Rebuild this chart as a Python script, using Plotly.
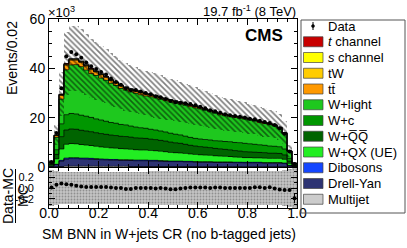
import numpy as np
import plotly.graph_objects as go

# ---------------- data (events in units of 10^3 per 0.02 bin) ----------------
nbins = 50
bin_width = 0.02
bin_centers = np.arange(nbins) * bin_width + bin_width / 2
bin_edges = np.arange(nbins + 1) * bin_width

multijet = [0.05, 0.1, 0.2, 0.3, 0.3, 0.3, 0.3, 0.3, 0.3, 0.3,
            0.25, 0.25, 0.25, 0.25, 0.25, 0.25, 0.2, 0.2, 0.2, 0.2,
            0.2, 0.2, 0.2, 0.2, 0.2, 0.2, 0.2, 0.2, 0.2, 0.2,
            0.15, 0.15, 0.15, 0.15, 0.15, 0.15, 0.15, 0.15, 0.15, 0.1,
            0.1, 0.1, 0.1, 0.1, 0.1, 0.1, 0.1, 0.1, 0.05, 0.02]
drell_yan = [0.32, 0.9, 2.2, 2.9, 3.1, 3.1, 3.0, 2.95, 2.85, 2.8,
             2.7, 2.65, 2.55, 2.55, 2.45, 2.45, 2.45, 2.35, 2.35, 2.35,
             2.25, 2.25, 2.15, 2.1, 2.0, 2.0, 2.0, 1.9, 1.9, 1.8,
             1.8, 1.8, 1.8, 1.7, 1.7, 1.7, 1.7, 1.6, 1.6, 1.6,
             1.6, 1.6, 1.6, 1.5, 1.5, 1.5, 1.5, 1.3, 0.55, 0.16]
dibosons = [0.03, 0.1, 0.3, 0.4, 0.4, 0.4, 0.3, 0.35, 0.35, 0.3,
            0.3, 0.25, 0.25, 0.25, 0.25, 0.25, 0.25, 0.25, 0.25, 0.25,
            0.25, 0.25, 0.25, 0.2, 0.2, 0.2, 0.2, 0.2, 0.2, 0.2,
            0.2, 0.2, 0.2, 0.2, 0.2, 0.2, 0.2, 0.2, 0.2, 0.2,
            0.2, 0.2, 0.2, 0.2, 0.2, 0.2, 0.2, 0.2, 0.05, 0.02]
w_qx_ue = [0.4, 2.2, 4.6, 5.6, 5.7, 5.6, 5.5, 5.3, 5.2, 5.0,
           4.9, 4.8, 4.7, 4.6, 4.5, 4.4, 4.3, 4.2, 4.1, 4.1,
           4.0, 3.9, 3.8, 3.7, 3.5, 3.4, 3.3, 3.2, 3.0, 2.9,
           2.8, 2.7, 2.6, 2.5, 2.4, 2.3, 2.2, 2.1, 2.0, 1.9,
           1.9, 1.8, 1.8, 1.8, 1.7, 1.7, 1.7, 1.5, 0.8, 0.2]
w_qq = [0.3, 1.8, 5.0, 5.8, 5.9, 5.9, 5.8, 5.7, 5.6, 5.5,
        5.4, 5.3, 5.2, 5.1, 5.0, 5.0, 4.9, 4.8, 4.8, 4.7,
        4.6, 4.5, 4.4, 4.3, 4.2, 4.0, 3.9, 3.7, 3.5, 3.4,
        3.3, 3.2, 3.1, 3.0, 2.9, 2.8, 2.7, 2.6, 2.5, 2.4,
        2.3, 2.3, 2.2, 2.2, 2.1, 2.1, 2.0, 1.8, 0.9, 0.25]
w_c = [0.3, 1.9, 5.2, 6.2, 6.3, 6.2, 6.1, 6.0, 5.8, 5.6,
       5.5, 5.3, 5.1, 5.0, 4.8, 4.7, 4.5, 4.4, 4.2, 4.1,
       4.0, 3.9, 3.8, 3.7, 3.6, 3.5, 3.4, 3.3, 3.2, 3.1,
       3.1, 3.1, 3.1, 3.1, 3.2, 3.2, 3.3, 3.3, 3.4, 3.4,
       3.3, 3.2, 3.1, 3.0, 2.9, 2.8, 2.7, 2.4, 1.2, 0.3]
w_light = [0.45, 5.0, 10.0, 18.2, 19.7, 20.0, 19.7, 18.7, 17.8, 17.6,
           17.0, 16.6, 15.9, 15.3, 14.6, 14.1, 13.8, 13.7, 13.4, 13.1,
           13.2, 13.0, 12.8, 12.7, 12.7, 12.7, 12.5, 12.5, 12.5, 12.4,
           12.2, 11.8, 11.4, 11.1, 10.6, 10.4, 10.1, 10.1, 9.9, 9.8,
           9.6, 9.4, 9.0, 8.8, 8.6, 8.2, 7.4, 6.1, 2.8, 0.5]
ttbar = [0.1, 0.7, 1.5, 1.9, 1.9, 1.8, 1.7, 1.6, 1.5, 1.4,
         1.3, 1.2, 1.1, 1.0, 1.0, 0.9, 0.9, 0.8, 0.8, 0.7,
         0.7, 0.7, 0.6, 0.6, 0.6, 0.5, 0.5, 0.5, 0.5, 0.5,
         0.4, 0.4, 0.4, 0.4, 0.4, 0.4, 0.4, 0.4, 0.4, 0.4,
         0.3, 0.3, 0.3, 0.3, 0.3, 0.3, 0.3, 0.3, 0.1, 0.03]
tw = [0.02, 0.15, 0.3, 0.35, 0.35, 0.35, 0.3, 0.3, 0.3, 0.25,
      0.2, 0.2, 0.2, 0.2, 0.2, 0.2, 0.2, 0.2, 0.2, 0.2,
      0.15, 0.15, 0.15, 0.15, 0.15, 0.15, 0.15, 0.15, 0.15, 0.15,
      0.1, 0.1, 0.1, 0.1, 0.1, 0.1, 0.1, 0.1, 0.1, 0.1,
      0.1, 0.1, 0.1, 0.1, 0.1, 0.1, 0.1, 0.1, 0.03, 0.01]
s_channel = [0.01, 0.03, 0.06, 0.08, 0.08, 0.08, 0.08, 0.08, 0.08, 0.06,
             0.06, 0.06, 0.06, 0.06, 0.06, 0.06, 0.06, 0.06, 0.06, 0.06,
             0.04, 0.04, 0.04, 0.04, 0.04, 0.04, 0.04, 0.04, 0.04, 0.04,
             0.04, 0.04, 0.04, 0.04, 0.04, 0.04, 0.04, 0.04, 0.04, 0.04,
             0.04, 0.04, 0.04, 0.04, 0.04, 0.04, 0.04, 0.04, 0.02, 0.005]
t_channel = [0.02, 0.1, 0.2, 0.25, 0.25, 0.25, 0.25, 0.25, 0.25, 0.2,
             0.2, 0.2, 0.2, 0.2, 0.2, 0.2, 0.2, 0.2, 0.2, 0.2,
             0.15, 0.15, 0.15, 0.15, 0.15, 0.15, 0.15, 0.15, 0.15, 0.15,
             0.12, 0.12, 0.12, 0.12, 0.12, 0.12, 0.12, 0.12, 0.12, 0.12,
             0.12, 0.12, 0.12, 0.12, 0.12, 0.12, 0.12, 0.12, 0.05, 0.01]

data = [2.02, 13.78, 31.97, 44.94, 46.64, 45.76, 44.29, 42.33, 40.8, 39.78,
        38.56, 37.54, 35.86, 34.5, 33.3, 31.85, 31.16, 31.2, 30.6, 30.0,
        29.5, 28.71, 28.3, 27.52, 26.75, 26.26, 26.04, 25.8, 25.55, 25.05,
        24.44, 23.84, 23.0, 22.62, 22.02, 21.4, 21.0, 20.7, 20.4, 20.1,
        19.6, 19.39, 18.79, 18.2, 17.88, 17.03, 15.71, 13.44, 6.3, 1.22]
data_err = [0.06, 0.12, 0.18, 0.21, 0.22, 0.21, 0.21, 0.21, 0.2, 0.2,
            0.2, 0.19, 0.19, 0.19, 0.18, 0.18, 0.18, 0.18, 0.18, 0.17,
            0.17, 0.17, 0.17, 0.17, 0.16, 0.16, 0.16, 0.16, 0.16, 0.16,
            0.16, 0.15, 0.15, 0.15, 0.15, 0.15, 0.15, 0.14, 0.14, 0.14,
            0.14, 0.14, 0.14, 0.14, 0.13, 0.13, 0.13, 0.12, 0.15, 0.14]
# relative systematic uncertainty of the prediction
syst_rel = [0.33, 0.31, 0.30, 0.30, 0.30, 0.30, 0.30, 0.30, 0.30, 0.30,
            0.30, 0.30, 0.30, 0.30, 0.30, 0.30, 0.30, 0.30, 0.30, 0.30,
            0.31, 0.31, 0.31, 0.31, 0.31, 0.31, 0.31, 0.31, 0.31, 0.31,
            0.31, 0.31, 0.31, 0.31, 0.31, 0.31, 0.31, 0.31, 0.31, 0.31,
            0.31, 0.31, 0.32, 0.32, 0.32, 0.32, 0.32, 0.33, 0.35, 0.38]

x_ticks = [0.0, 0.2, 0.4, 0.6, 0.8, 1.0]
x_tick_labels = ["0.0", "0.2", "0.4", "0.6", "0.8", "1.0"]
y_ticks = [0, 20, 40, 60]
ratio_ticks = [-0.2, 0.0, 0.2]
ratio_tick_labels = ["-0.2", "0.0", "0.2"]

# stack order: bottom -> top
stack = [
    ("Multijet", multijet, "#cccccc"),
    ("Drell-Yan", drell_yan, "#2d3373"),
    ("Dibosons", dibosons, "#1446ff"),
    ("W+QX (UE)", w_qx_ue, "#22ee22"),
    ("W+Q\u0305Q\u0305", w_qq, "#006400"),
    ("W+c", w_c, "#009600"),
    ("W+light", w_light, "#1ec81e"),
    ("tt\u0304", ttbar, "#ff9900"),
    ("tW", tw, "#ffcc00"),
    ("<i>s</i> channel", s_channel, "#ffff00"),
    ("<i>t</i> channel", t_channel, "#c80000"),
]

# ---------------- geometry helpers (pixel -> paper) ----------------
W, H = 407, 248
L, R, T, B = 49, 297, 19, 208


def px(x):
    return (x - L) / (R - L)


def py(y):
    return (B - y) / (B - T)


FONT = "Liberation Sans, Arial, Helvetica, sans-serif"

fig = go.Figure()

# stacked histograms
base = np.zeros(nbins)
tops = []
for name, vals, col in stack:
    v = np.array(vals, dtype=float)
    fig.add_trace(go.Bar(x=bin_centers, y=v, base=base.copy(), width=bin_width,
                         marker=dict(color=col, line=dict(width=0)),
                         showlegend=False, hoverinfo="skip",
                         xaxis="x", yaxis="y"))
    base = base + v
    tops.append(base.copy())

total = base.copy()

# step outlines of each layer
for top in tops:
    fig.add_trace(go.Scatter(x=bin_edges, y=np.append(top, top[-1]),
                             mode="lines", line=dict(color="black", width=0.7, shape="hv"),
                             showlegend=False, hoverinfo="skip", xaxis="x", yaxis="y"))

# hatched uncertainty band
syst = np.array(syst_rel)
fig.add_trace(go.Bar(x=bin_centers, y=2 * syst * total, base=total * (1 - syst), width=bin_width,
                     marker=dict(color="rgba(0,0,0,0)", line=dict(width=0),
                                 pattern=dict(shape="\\", fgcolor="black", bgcolor="rgba(0,0,0,0)",
                                              size=4, solidity=0.42, fillmode="overlay")),
                     showlegend=False, hoverinfo="skip", xaxis="x", yaxis="y"))

# data
fig.add_trace(go.Scatter(x=bin_centers, y=data, mode="markers",
                         marker=dict(color="black", size=4),
                         error_y=dict(type="data", array=data_err, color="black", thickness=1, width=0),
                         showlegend=False, hoverinfo="skip", xaxis="x", yaxis="y"))

# ratio panel
ratio = np.array(data) / total - 1
ratio_err = np.array(data_err) / total
fig.add_trace(go.Bar(x=bin_centers, y=2 * syst, base=-syst, width=bin_width,
                     marker=dict(color="#bdbdbd", line=dict(width=0),
                                 pattern=dict(shape=".", fgcolor="#8f8f8f", bgcolor="#c4c4c4",
                                              size=3, solidity=0.3, fillmode="replace")),
                     showlegend=False, hoverinfo="skip", xaxis="x2", yaxis="y2"))
fig.add_trace(go.Scatter(x=bin_centers, y=ratio, mode="markers",
                         marker=dict(color="black", size=4),
                         error_y=dict(type="data", array=ratio_err, color="black", thickness=1, width=0),
                         showlegend=False, hoverinfo="skip", xaxis="x2", yaxis="y2"))

axis_common = dict(showline=True, linecolor="black", linewidth=1, mirror="ticks",
                   ticks="inside", ticklen=6, tickcolor="black", tickwidth=1,
                   showgrid=False, zeroline=False)

main_bottom = py(167)
ratio_top = py(168)
tf14 = dict(family=FONT, size=14, color="black")

fig.update_layout(
    width=W, height=H,
    margin=dict(l=L, r=W - R, t=T, b=H - B, pad=0),
    paper_bgcolor="white", plot_bgcolor="white",
    barmode="overlay", bargap=0,
    showlegend=False,
    xaxis=dict(domain=[0, 1], range=[0, 1], tickvals=x_ticks, showticklabels=False,
               anchor="y", minor=dict(dtick=0.04, ticklen=3, ticks="inside", tickcolor="black"),
               **axis_common),
    yaxis=dict(domain=[main_bottom, 1], range=[0, 60], tickvals=y_ticks, tickfont=tf14,
               anchor="x", minor=dict(dtick=5, ticklen=3, ticks="inside", tickcolor="black"),
               **axis_common),
    xaxis2=dict(domain=[0, 1], range=[0, 1], tickvals=x_ticks, ticktext=x_tick_labels,
                tickfont=tf14, ticklabelstandoff=-8,
                anchor="y2", minor=dict(dtick=0.04, ticklen=3, ticks="inside", tickcolor="black"),
                **axis_common),
    yaxis2=dict(domain=[0, ratio_top], range=[-0.37, 0.37], tickvals=ratio_ticks,
                ticktext=ratio_tick_labels, ticklabelstandoff=12,
                tickfont=dict(family=FONT, size=11, color="black"),
                anchor="x2", minor=dict(dtick=0.1, ticklen=3, ticks="inside", tickcolor="black"),
                **axis_common),
)

ann = []
shapes = []


def text(x, y, s, size=14, xanchor="left", yanchor="middle", angle=0):
    ann.append(dict(x=px(x), y=py(y), xref="paper", yref="paper", text=s, showarrow=False,
                    xanchor=xanchor, yanchor=yanchor, textangle=angle,
                    font=dict(family=FONT, size=size, color="black"),
                    borderpad=0))


text(47, 12, "\u00d710<sup>3</sup>", size=13)
text(297, 11, "19.7 fb<sup>-1</sup> (8 TeV)", size=13, xanchor="right")
text(284, 35, "<b>CMS</b>", size=17, xanchor="right")
text(297, 234, "SM BNN in W+jets CR (no b-tagged jets)", size=14, xanchor="right")
text(12, 20, "Events/0.02", size=14, xanchor="center", yanchor="top", angle=-90)
text(8, 196, "Data-MC", size=14, xanchor="center", angle=-90)
text(23, 196, "MC", size=14, xanchor="center", angle=-90)
shapes.append(dict(type="line", xref="paper", yref="paper", x0=px(15.5), x1=px(15.5),
                   y0=py(169), y1=py(223), line=dict(color="black", width=1)))

# legend box
shapes.append(dict(type="rect", xref="paper", yref="paper", x0=px(301), x1=px(405),
                   y0=py(20), y1=py(213), line=dict(color="#555555", width=1),
                   fillcolor="rgba(0,0,0,0)"))
legend_items = [("Data", None)] + [(n, c) for n, _, c in stack[::-1]]
for i, (name, col) in enumerate(legend_items):
    yc = 26 + 15.75 * i
    if col is None:
        shapes.append(dict(type="line", xref="paper", yref="paper", x0=px(313), x1=px(313),
                           y0=py(yc - 4), y1=py(yc + 4), line=dict(color="black", width=1)))
        shapes.append(dict(type="circle", xref="paper", yref="paper", x0=px(311.5), x1=px(314.5),
                           y0=py(yc + 1.5), y1=py(yc - 1.5), fillcolor="black",
                           line=dict(color="black", width=0.5)))
    else:
        shapes.append(dict(type="rect", xref="paper", yref="paper", x0=px(303.5), x1=px(323),
                           y0=py(yc + 5), y1=py(yc - 5), fillcolor=col,
                           line=dict(color="#444444", width=0.7)))
    text(327, yc, name, size=13)

fig.update_layout(annotations=ann, shapes=shapes)
fig.write_html("out.html", config={"displayModeBar": False, "staticPlot": True},
               post_script="document.body.style.margin='0';document.body.style.padding='0';"
                           "document.body.style.overflow='hidden';")
